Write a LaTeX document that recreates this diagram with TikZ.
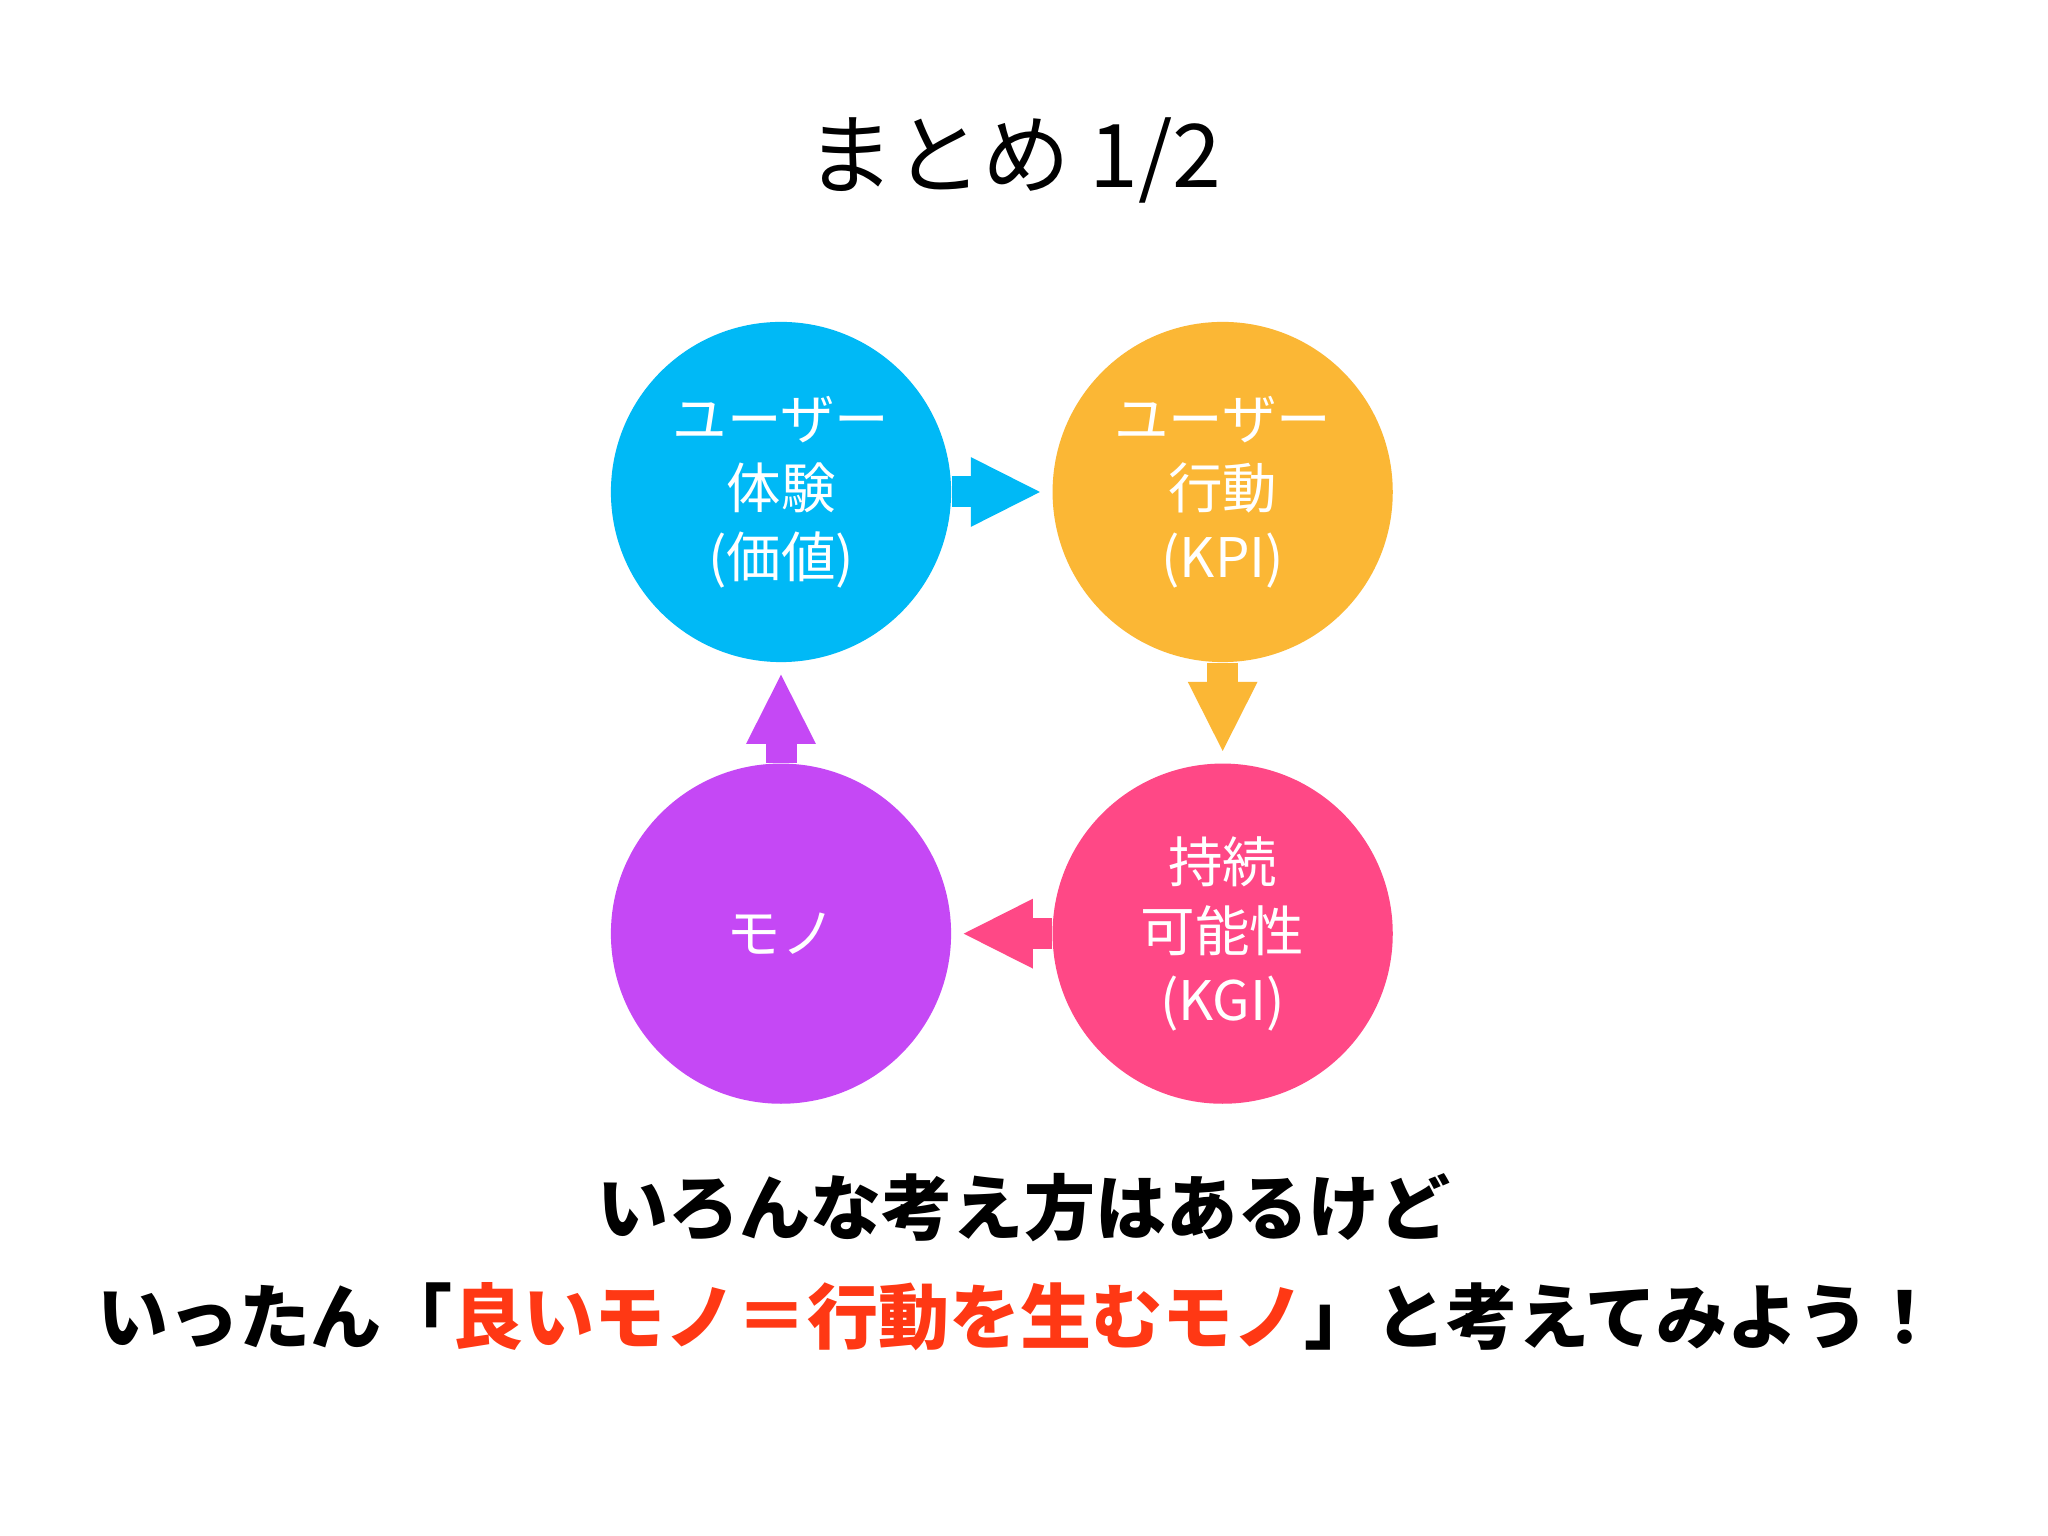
\documentclass[tikz,border=0pt]{standalone}
\usepackage{fontspec}
\setmainfont{Noto Sans CJK JP}
\usepackage{tikz}
\usetikzlibrary{positioning}
\usetikzlibrary{arrows.meta}

\definecolor{uxblue}{HTML}{00B9F6}
\definecolor{kpiorange}{HTML}{FBB735}
\definecolor{kgipink}{HTML}{FF4886}
\definecolor{monopurple}{HTML}{C548F5}
\definecolor{goodred}{HTML}{FF3814}

\begin{document}
\begin{tikzpicture}[x=0.01cm,y=0.01cm,align=center,
    ball/.style={circle,fill=#1,minimum size=3.40cm,inner sep=0pt,text=white,
      font=\fontsize{15.5}{19.6}\selectfont},
    fat/.style={draw=#1,line width=0.31cm,shorten >=0.1cm,
      -{Triangle[length=0.71cm,width=0.64cm]}}]
  \useasboundingbox[fill=white] (0,0) rectangle (2048,1536);

  \node (title) at (1014,1376) {\fontsize{25}{30}\selectfont まとめ 1/2};

  \node (ux)   [ball=uxblue] at (781,1044)        {ユーザー\\体験\\(価値)};
  \node (kpi)  [ball=kpiorange,right=1cm of ux]   {ユーザー\\行動\\(KPI)};
  \node (kgi)  [ball=kgipink,below=1cm of kpi]    {持続\\可能性\\(KGI)};
  \node (mono) [ball=monopurple,below=1cm of ux]  {モノ};

  \path (ux)   edge[fat=uxblue]     (kpi);
  \path (kpi)  edge[fat=kpiorange]  (kgi);
  \path (kgi)  edge[fat=kgipink]    (mono);
  \path (mono) edge[fat=monopurple] (ux);

  \node (line1) at (1024,328) {\fontsize{20.2}{24}\selectfont\bfseries いろんな考え方はあるけど};
  \node (line2) at (1019,219) {\fontsize{20.2}{24}\selectfont\bfseries
    いったん「\textcolor{goodred}{良いモノ＝行動を生むモノ}」と考えてみよう！};
\end{tikzpicture}
\end{document}
